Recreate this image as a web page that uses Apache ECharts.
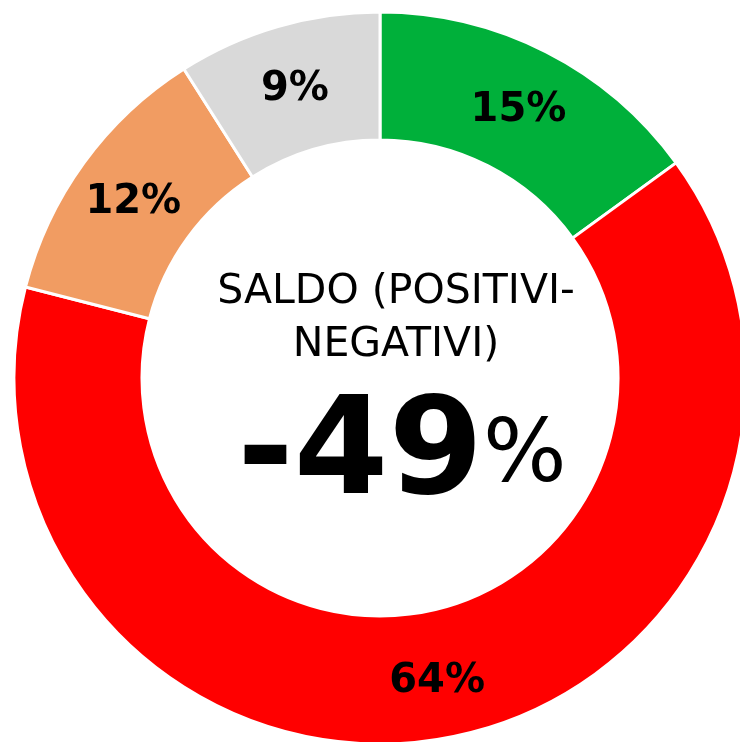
<!DOCTYPE html>
<html>
<head>
<meta charset="utf-8">
<script src="https://cdn.jsdelivr.net/npm/echarts@6/dist/echarts.min.js"></script>
<style>
  html, body { margin: 0; padding: 0; background: #fff; }
  #chart { width: 740px; height: 742px; }
</style>
</head>
<body>
<div id="chart"></div>
<script>
const categories = ['Positivi', 'Negativi', 'Neutri', 'Non sa'];
const values = [15, 64, 12, 9];
const colors = ['#00B03A', '#FF0000', '#F19C62', '#D9D9D9'];
const centerTitle = ['SALDO (POSITIVI-', 'NEGATIVI)'];

// saldo = positivi - negativi
const saldo = values[0] - values[1];

const myChart = echarts.init(document.getElementById('chart'), null, { renderer: 'canvas' });

const option = {
  animation: false,
  backgroundColor: '#ffffff',
  series: [{
    type: 'pie',
    center: [380, 378],
    radius: [238, 366],
    startAngle: 90,
    clockwise: true,
    silent: true,
    itemStyle: {
      borderColor: '#ffffff',
      borderWidth: 3
    },
    label: {
      show: true,
      position: 'inside',
      formatter: '{c}%',
      color: '#000000',
      fontFamily: 'DejaVu Sans',
      fontWeight: 'bold',
      fontSize: 40,
      offset: [0, 4]
    },
    labelLine: { show: false },
    data: categories.map((name, i) => ({
      name: name,
      value: values[i],
      itemStyle: { color: colors[i] }
    }))
  }],
  graphic: [
    {
      type: 'text',
      style: {
        text: centerTitle.join('\n'),
        x: 396,
        y: 266,
        fill: '#000',
        font: '41px "DejaVu Sans"',
        textAlign: 'center',
        textVerticalAlign: 'top',
        lineHeight: 53
      }
    },
    {
      type: 'text',
      style: {
        text: '{b|' + saldo + '}{p|%}',
        x: 402,
        y: 526,
        textAlign: 'center',
        textVerticalAlign: 'bottom',
        rich: {
          b: { fontFamily: 'DejaVu Sans', fontWeight: 'bold', fontSize: 136, fill: '#000' },
          p: { fontFamily: 'DejaVu Sans', fontSize: 88, fill: '#000' }
        }
      }
    }
  ]
};

myChart.setOption(option);
</script>
</body>
</html>
